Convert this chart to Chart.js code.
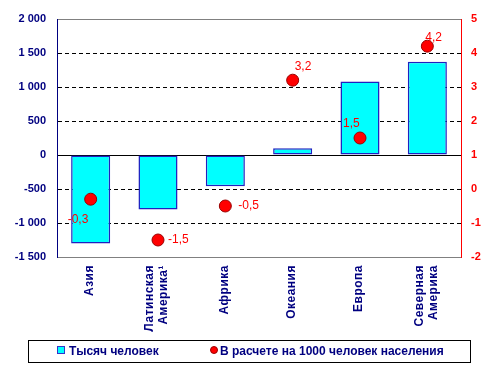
<!DOCTYPE html>
<html>
<head>
<meta charset="utf-8">
<script src="https://cdn.jsdelivr.net/npm/chart.js@4"></script>
<style>
  body { margin: 0; background: #fff; font-family: Arial, "Liberation Sans", sans-serif; }
  #wrap { position: relative; width: 493px; height: 375px; }
  #legend {
    position: absolute; left: 28px; top: 340px; width: 441px; height: 21px;
    border: 1px solid #000; font-weight: bold; font-size: 12px; color: #000080;
  }
  .item { position: absolute; top: 3px; white-space: nowrap; line-height: 14px; }
  .sq { display: inline-block; width: 6px; height: 6px; background: #00ffff; border: 1px solid #3333cc; margin-right: 4px; vertical-align: 1px; }
  .dot { display: inline-block; width: 6px; height: 6px; background: #ff0000; border: 1px solid #990000; border-radius: 50%; margin-right: 2px; vertical-align: 1px; }
</style>
</head>
<body>
<div id="wrap">
  <canvas id="chart" width="493" height="375"></canvas>
  <div id="legend">
    <span class="item" style="left:28px"><span class="sq"></span>Тысяч человек</span>
    <span class="item" style="left:181px"><span class="dot"></span>В расчете на 1000 человек населения</span>
  </div>
</div>
<script>
const regions = ["Азия", ["Латинская", "Америка¹"], "Африка", "Океания", "Европа", ["Северная", "Америка"]];
const thousands = [-1300, -800, -460, 100, 1080, 1370];
const per1000 = [-0.3, -1.5, -0.5, 3.2, 1.5, 4.2];

// where each value label sits relative to its dot
const labelOffsets = [[-23, 20], [10, 0], [13, 0], [2, -14], [-17, -14], [-2, -9]];

const navy = "#000080";
const fontFamily = "Arial, 'Liberation Sans', sans-serif";
const font = { family: fontFamily, size: 11, weight: "bold" };

function spaced(v) {
  return String(v).replace(/\B(?=(\d{3})+(?!\d))/g, " ");
}

const valueLabels = {
  id: "valueLabels",
  afterDatasetsDraw(chart) {
    const ctx = chart.ctx;
    const meta = chart.getDatasetMeta(1);
    ctx.save();
    ctx.font = "12px " + fontFamily;
    ctx.fillStyle = "#ff0000";
    ctx.textAlign = "left";
    ctx.textBaseline = "middle";
    meta.data.forEach((pt, i) => {
      const txt = String(per1000[i]).replace(".", ",");
      ctx.fillText(txt, pt.x + labelOffsets[i][0], pt.y + labelOffsets[i][1]);
    });
    ctx.restore();
  },
};

// rotated category labels, multi-line ones centred on the tick
const categoryLabels = {
  id: "categoryLabels",
  afterDraw(chart) {
    const ctx = chart.ctx;
    const xs = chart.scales.x;
    const top = chart.chartArea.bottom + 8;
    ctx.save();
    ctx.font = "bold 12px " + fontFamily;
    ctx.letterSpacing = "0.5px";
    ctx.fillStyle = navy;
    ctx.textAlign = "right";
    ctx.textBaseline = "middle";
    regions.forEach((lab, i) => {
      const lines = Array.isArray(lab) ? lab : [lab];
      const cx = xs.getPixelForTick(i);
      lines.forEach((line, j) => {
        const x = cx - 1 + (j - (lines.length - 1) / 2) * 14;
        ctx.save();
        ctx.translate(x, top);
        ctx.rotate(-Math.PI / 2);
        ctx.fillText(line, 0, 0);
        ctx.restore();
      });
    });
    ctx.restore();
  },
};

const ctx = document.getElementById("chart").getContext("2d");
const chart = new Chart(ctx, {
  type: "bar",
  data: {
    labels: regions,
    datasets: [
      {
        label: "Тысяч человек",
        data: thousands,
        yAxisID: "y",
        backgroundColor: "#00ffff",
        borderColor: "#2020c0",
        borderWidth: 1.5,
        borderSkipped: false,
        barPercentage: 0.58,
        categoryPercentage: 1,
        order: 2,
      },
      {
        type: "line",
        label: "В расчете на 1000 человек населения",
        data: per1000,
        yAxisID: "y1",
        showLine: false,
        pointRadius: 6,
        pointBackgroundColor: "#ff0000",
        pointBorderColor: "#990000",
        pointBorderWidth: 1,
        order: 1,
      },
    ],
  },
  options: {
    responsive: false,
    animation: false,
    layout: { padding: { top: 19, bottom: 38, left: 0, right: 0 } },
    plugins: {
      legend: { display: false },
      tooltip: { enabled: false },
    },
    scales: {
      x: {
        grid: { display: false },
        border: { display: true, color: "#808080" },
        ticks: { display: false },
        afterFit(scale) { scale.height = 80; },
      },
      y: {
        position: "left",
        min: -1500,
        max: 2000,
        ticks: { stepSize: 500, color: navy, font: font, padding: 11, callback: (v) => spaced(v) },
        grid: {
          drawTicks: false,
          color: (c) => (c.tick.value === 2000 || c.tick.value === -1500 ? "#808080" : "#000"),
        },
        border: {
          color: navy,
          dash: (c) => (c.tick && c.tick.value !== 0 && c.tick.value !== 2000 && c.tick.value !== -1500 ? [4, 3] : []),
        },
        afterFit(scale) { scale.width = 57; },
      },
      y1: {
        position: "right",
        min: -2,
        max: 5,
        ticks: { stepSize: 1, color: "#ff0000", font: font, padding: 10 },
        grid: { drawOnChartArea: false, drawTicks: false },
        border: { color: "#ff0000" },
        afterFit(scale) { scale.width = 32; },
      },
    },
  },
  plugins: [valueLabels, categoryLabels],
});
</script>
</body>
</html>
